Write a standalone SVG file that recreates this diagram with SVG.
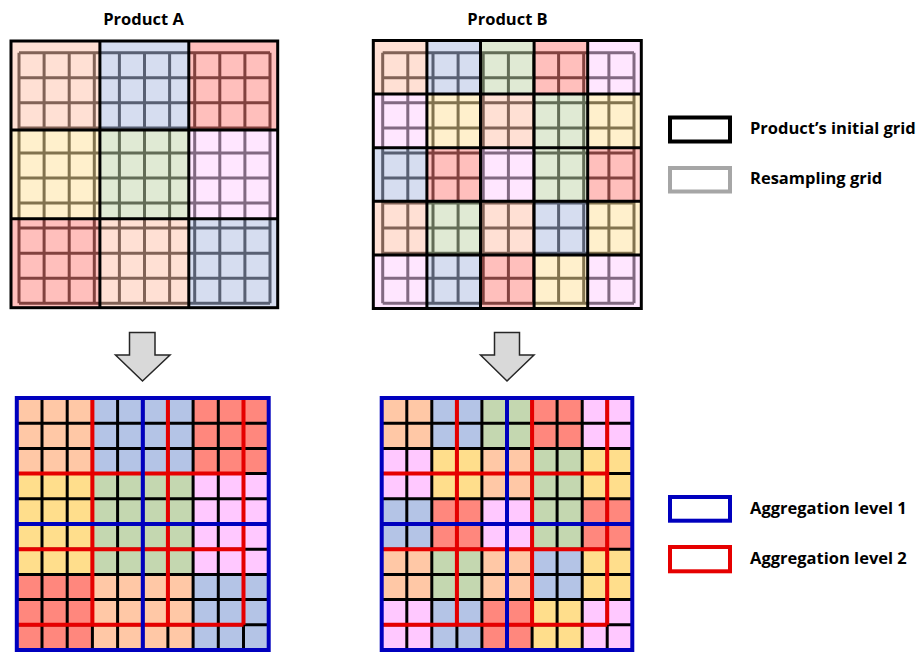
<svg xmlns="http://www.w3.org/2000/svg" width="919" height="655" viewBox="0 0 919 655">
<style>
text{font-family:"Open Sans","Liberation Sans",sans-serif;font-weight:bold;font-size:16.5px;fill:#000}
.rs{fill:none;stroke:#404040;stroke-width:3}
.ov{fill-opacity:0.35}
.pe{fill:#FFA684}.bl{fill:#8A9ED4}.rd{fill:#FF4840}.ye{fill:#FFD46D}.gr{fill:#A6C384}.pk{fill:#FFB7FF}
.ig{fill:none;stroke:#000;stroke-width:3}
.bpe{fill:#FFC8A6}.bbl{fill:#B4C4E6}.brd{fill:#FF877D}.bye{fill:#FFDE8C}.bgr{fill:#C4D7B0}.bpk{fill:#FFC8FF}
.cl{fill:none;stroke:#000;stroke-width:3}
.l2{fill:none;stroke:#E60000;stroke-width:4}
.l1{fill:none;stroke:#0000BE;stroke-width:4}
.arr{fill:#D9D9D9;stroke:#262626;stroke-width:1.5;stroke-linejoin:miter}
</style>
<rect width="919" height="655" fill="#fff"/>

<g id="titleA"><text x="143.5" y="25" text-anchor="middle">Product A</text></g>
<g id="titleB"><text x="507.5" y="25" text-anchor="middle">Product B</text></g>

<g id="productA">
<path class="rs" d="M19 52.7V303.3M44.1 52.7V303.3M69.2 52.7V303.3M94.3 52.7V303.3M119.4 52.7V303.3M144.5 52.7V303.3M169.6 52.7V303.3M194.7 52.7V303.3M219.8 52.7V303.3M244.9 52.7V303.3M270 52.7V303.3M19 52.7H270M19 77.8H270M19 102.8H270M19 127.9H270M19 152.9H270M19 178H270M19 203.1H270M19 228.1H270M19 253.2H270M19 278.2H270M19 303.3H270"/>
<g class="ov">
<rect class="pe" x="11" y="41" width="88.9" height="88.9"/>
<rect class="bl" x="99.9" y="41" width="88.9" height="88.9"/>
<rect class="rd" x="188.8" y="41" width="88.9" height="88.9"/>
<rect class="ye" x="11" y="129.9" width="88.9" height="88.9"/>
<rect class="gr" x="99.9" y="129.9" width="88.9" height="88.9"/>
<rect class="pk" x="188.8" y="129.9" width="88.9" height="88.9"/>
<rect class="rd" x="11" y="218.8" width="88.9" height="88.9"/>
<rect class="pe" x="99.9" y="218.8" width="88.9" height="88.9"/>
<rect class="bl" x="188.8" y="218.8" width="88.9" height="88.9"/>
</g>
<path class="ig" d="M99.9 41V307.7M188.8 41V307.7M11 129.9H277.7M11 218.8H277.7"/>
<rect class="ig" x="11" y="41" width="266.7" height="266.7" stroke-width="3.5"/>
</g>

<g id="productB">
<path class="rs" d="M382.7 52.7V303.3M407.8 52.7V303.3M433 52.7V303.3M458.1 52.7V303.3M483.2 52.7V303.3M508.4 52.7V303.3M533.5 52.7V303.3M558.6 52.7V303.3M583.7 52.7V303.3M608.9 52.7V303.3M634 52.7V303.3M382.7 52.7H634M382.7 77.8H634M382.7 102.8H634M382.7 127.9H634M382.7 152.9H634M382.7 178H634M382.7 203.1H634M382.7 228.1H634M382.7 253.2H634M382.7 278.2H634M382.7 303.3H634"/>
<g class="ov">
<rect class="pe" x="373.3" y="40.5" width="53.6" height="53.6"/>
<rect class="bl" x="426.9" y="40.5" width="53.6" height="53.6"/>
<rect class="gr" x="480.5" y="40.5" width="53.6" height="53.6"/>
<rect class="rd" x="534.1" y="40.5" width="53.6" height="53.6"/>
<rect class="pk" x="587.7" y="40.5" width="53.6" height="53.6"/>
<rect class="pk" x="373.3" y="94.1" width="53.6" height="53.6"/>
<rect class="ye" x="426.9" y="94.1" width="53.6" height="53.6"/>
<rect class="pe" x="480.5" y="94.1" width="53.6" height="53.6"/>
<rect class="gr" x="534.1" y="94.1" width="53.6" height="53.6"/>
<rect class="ye" x="587.7" y="94.1" width="53.6" height="53.6"/>
<rect class="bl" x="373.3" y="147.7" width="53.6" height="53.6"/>
<rect class="rd" x="426.9" y="147.7" width="53.6" height="53.6"/>
<rect class="pk" x="480.5" y="147.7" width="53.6" height="53.6"/>
<rect class="gr" x="534.1" y="147.7" width="53.6" height="53.6"/>
<rect class="rd" x="587.7" y="147.7" width="53.6" height="53.6"/>
<rect class="pe" x="373.3" y="201.3" width="53.6" height="53.6"/>
<rect class="gr" x="426.9" y="201.3" width="53.6" height="53.6"/>
<rect class="pe" x="480.5" y="201.3" width="53.6" height="53.6"/>
<rect class="bl" x="534.1" y="201.3" width="53.6" height="53.6"/>
<rect class="ye" x="587.7" y="201.3" width="53.6" height="53.6"/>
<rect class="pk" x="373.3" y="254.9" width="53.6" height="53.6"/>
<rect class="bl" x="426.9" y="254.9" width="53.6" height="53.6"/>
<rect class="rd" x="480.5" y="254.9" width="53.6" height="53.6"/>
<rect class="ye" x="534.1" y="254.9" width="53.6" height="53.6"/>
<rect class="pk" x="587.7" y="254.9" width="53.6" height="53.6"/>
</g>
<path class="ig" d="M426.9 40.5V308.5M480.5 40.5V308.5M534.1 40.5V308.5M587.7 40.5V308.5M373.3 94.1H641.3M373.3 147.7H641.3M373.3 201.3H641.3M373.3 254.9H641.3"/>
<rect class="ig" x="373.3" y="40.5" width="268" height="268" stroke-width="3.5"/>
</g>

<g id="connectors">
<polygon class="arr" points="129.5,332.5 155,332.5 155,355 170,355 142.5,381 115.5,355 129.5,355"/>
<polygon class="arr" points="494.5,332.5 519.5,332.5 519.5,355 534,355 507,381 480.5,355 494.5,355"/>
</g>

<g id="aggregatedA">
<rect class="bpe" x="16.8" y="398" width="75.6" height="75.6"/>
<rect class="bbl" x="92.4" y="398" width="100.7" height="75.6"/>
<rect class="brd" x="193.1" y="398" width="75.6" height="75.6"/>
<rect class="bye" x="16.8" y="473.6" width="75.6" height="100.8"/>
<rect class="bgr" x="92.4" y="473.6" width="100.7" height="100.8"/>
<rect class="bpk" x="193.1" y="473.6" width="75.6" height="100.8"/>
<rect class="brd" x="16.8" y="574.4" width="75.6" height="75.6"/>
<rect class="bpe" x="92.4" y="574.4" width="100.7" height="75.6"/>
<rect class="bbl" x="193.1" y="574.4" width="75.6" height="75.6"/>
<path class="cl" d="M42 398V650M67.2 398V650M92.4 398V650M117.6 398V650M142.8 398V650M167.9 398V650M193.1 398V650M218.3 398V650M243.5 398V650M16.8 423.2H268.7M16.8 448.4H268.7M16.8 473.6H268.7M16.8 498.8H268.7M16.8 524H268.7M16.8 549.2H268.7M16.8 574.4H268.7M16.8 599.6H268.7M16.8 624.8H268.7"/>
<path class="l2" d="M92.4 398V624.8M167.9 398V624.8M243.5 398V624.8M16.8 473.6H243.5M16.8 549.2H243.5M16.8 624.8H243.5"/>
<path class="l1" d="M142.8 398V650M16.8 524H268.7" stroke-width="3.5"/>
<rect class="l1" x="16.8" y="398" width="251.9" height="252"/>
</g>

<g id="aggregatedB">
<rect class="bpe" x="381.7" y="398" width="50.2" height="50.4"/>
<rect class="bbl" x="431.8" y="398" width="50.2" height="50.4"/>
<rect class="bgr" x="481.9" y="398" width="50.2" height="50.4"/>
<rect class="brd" x="532.1" y="398" width="50.2" height="50.4"/>
<rect class="bpk" x="582.2" y="398" width="50.1" height="50.4"/>
<rect class="bpk" x="381.7" y="448.4" width="50.2" height="50.4"/>
<rect class="bye" x="431.8" y="448.4" width="50.2" height="50.4"/>
<rect class="bpe" x="481.9" y="448.4" width="50.2" height="50.4"/>
<rect class="bgr" x="532.1" y="448.4" width="50.2" height="50.4"/>
<rect class="bye" x="582.2" y="448.4" width="50.1" height="50.4"/>
<rect class="bbl" x="381.7" y="498.8" width="50.2" height="50.4"/>
<rect class="brd" x="431.8" y="498.8" width="50.2" height="50.4"/>
<rect class="bpk" x="481.9" y="498.8" width="50.2" height="50.4"/>
<rect class="bgr" x="532.1" y="498.8" width="50.2" height="50.4"/>
<rect class="brd" x="582.2" y="498.8" width="50.1" height="50.4"/>
<rect class="bpe" x="381.7" y="549.2" width="50.2" height="50.4"/>
<rect class="bgr" x="431.8" y="549.2" width="50.2" height="50.4"/>
<rect class="bpe" x="481.9" y="549.2" width="50.2" height="50.4"/>
<rect class="bbl" x="532.1" y="549.2" width="50.2" height="50.4"/>
<rect class="bye" x="582.2" y="549.2" width="50.1" height="50.4"/>
<rect class="bpk" x="381.7" y="599.6" width="50.2" height="50.4"/>
<rect class="bbl" x="431.8" y="599.6" width="50.2" height="50.4"/>
<rect class="brd" x="481.9" y="599.6" width="50.2" height="50.4"/>
<rect class="bye" x="532.1" y="599.6" width="50.2" height="50.4"/>
<rect class="bpk" x="582.2" y="599.6" width="50.1" height="50.4"/>
<path class="cl" d="M406.8 398V650M431.8 398V650M456.9 398V650M481.9 398V650M507 398V650M532.1 398V650M557.1 398V650M582.2 398V650M607.2 398V650M381.7 423.2H632.3M381.7 448.4H632.3M381.7 473.6H632.3M381.7 498.8H632.3M381.7 524H632.3M381.7 549.2H632.3M381.7 574.4H632.3M381.7 599.6H632.3M381.7 624.8H632.3"/>
<path class="l2" d="M456.9 398V624.8M532.1 398V624.8M607.2 398V624.8M381.7 473.6H607.2M381.7 549.2H607.2M381.7 624.8H607.2"/>
<path class="l1" d="M507 398V650M381.7 524H632.3" stroke-width="3.5"/>
<rect class="l1" x="381.7" y="398" width="250.6" height="252"/>
</g>

<g id="legend-initial-grid">
<rect x="670" y="117.5" width="60" height="24" fill="#fff" stroke="#000" stroke-width="4"/>
<text x="750" y="134">Product’s initial grid</text>
</g>
<g id="legend-resampling-grid">
<rect x="670" y="168" width="60" height="23.5" fill="#fff" stroke="#A6A6A6" stroke-width="4"/>
<text x="750" y="184">Resampling grid</text>
</g>
<g id="legend-aggregation-1">
<rect x="670" y="497" width="60" height="23.7" fill="#fff" stroke="#0000BE" stroke-width="4"/>
<text x="750" y="513.5">Aggregation level 1</text>
</g>
<g id="legend-aggregation-2">
<rect x="670" y="547" width="60" height="24.3" fill="#fff" stroke="#E60000" stroke-width="4"/>
<text x="750" y="563.5">Aggregation level 2</text>
</g>
</svg>
